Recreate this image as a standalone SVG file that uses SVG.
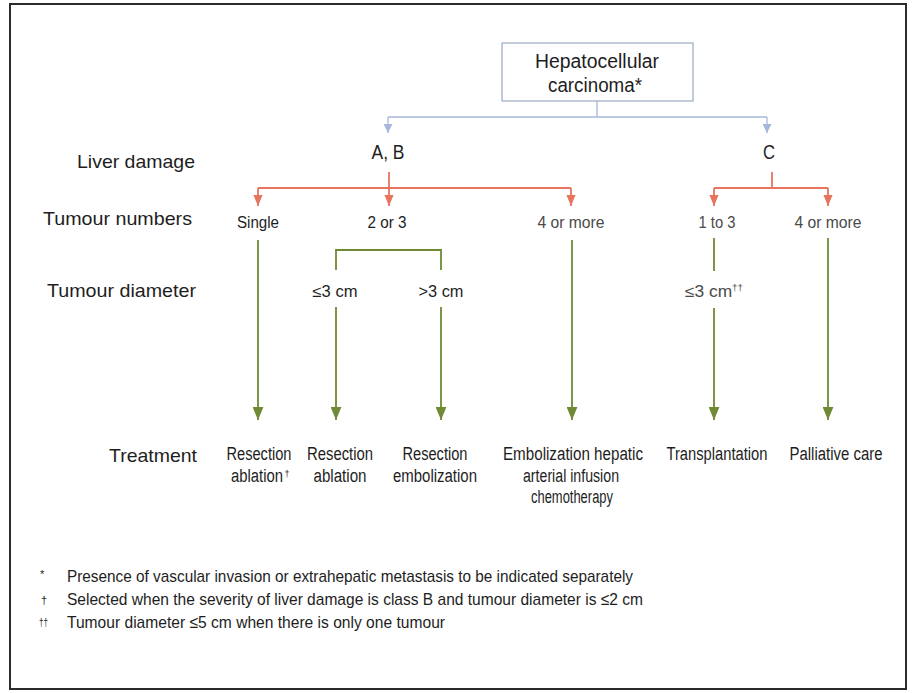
<svg xmlns="http://www.w3.org/2000/svg" width="912" height="693" viewBox="0 0 912 693">
<style>
text{font-family:"Liberation Sans",Arial,sans-serif;fill:#1e1e1e}
.lab{font-size:19px}
.hd{font-size:20px;text-anchor:middle}
.nd{font-size:16px;text-anchor:middle}
.lt{font-size:16px;text-anchor:middle;fill:#4a4a4a}
.tr{font-size:18px;text-anchor:middle}
.fn{font-size:17px}
.sym{font-size:11px}
.blue{stroke:#a7b6dc;stroke-width:1.3;fill:none}
.red{stroke:#e8735f;stroke-width:1.8;fill:none}
.green{stroke:#6e8a33;stroke-width:1.8;fill:none}
</style>
<defs>
<marker id="ab" viewBox="0 0 10 10" refX="10" refY="5" markerWidth="9" markerHeight="9" markerUnits="userSpaceOnUse" orient="auto"><path d="M0,0 L10,5 L0,10 z" fill="#a7b6dc"/></marker>
<marker id="ar" viewBox="0 0 12 10" refX="12" refY="5" markerWidth="11" markerHeight="11" markerUnits="userSpaceOnUse" orient="auto"><path d="M0,0 L12,5 L0,10 z" fill="#e8735f"/></marker>
<marker id="ag" viewBox="0 0 12 10" refX="12" refY="5" markerWidth="13" markerHeight="11" markerUnits="userSpaceOnUse" orient="auto"><path d="M0,0 L12,5 L0,10 z" fill="#6e8a33"/></marker>
</defs>
<rect x="0" y="0" width="912" height="693" fill="#ffffff"/>
<rect x="10" y="4" width="896" height="685" fill="none" stroke="#2b2b2b" stroke-width="2"/>

<g id="connectors">
<path class="blue" d="M597,101 V117 M388,117 H767"/>
<path class="blue" d="M388,117 V133" marker-end="url(#ab)"/>
<path class="blue" d="M767,117 V133" marker-end="url(#ab)"/>
<path class="red" d="M389,172 V188 M258,188 H571 M772,172 V188 M714,188 H828"/>
<path class="red" d="M258,188 V206" marker-end="url(#ar)"/>
<path class="red" d="M389,188 V206" marker-end="url(#ar)"/>
<path class="red" d="M571,188 V206" marker-end="url(#ar)"/>
<path class="red" d="M714,188 V206" marker-end="url(#ar)"/>
<path class="red" d="M828,188 V206" marker-end="url(#ar)"/>
<path class="green" d="M336,270 V250 H441 V270 M714,238 V271"/>
<path class="green" d="M258,240 V420" marker-end="url(#ag)"/>
<path class="green" d="M336,307 V420" marker-end="url(#ag)"/>
<path class="green" d="M441,307 V420" marker-end="url(#ag)"/>
<path class="green" d="M572,240 V420" marker-end="url(#ag)"/>
<path class="green" d="M714,308 V420" marker-end="url(#ag)"/>
<path class="green" d="M828,238 V420" marker-end="url(#ag)"/>
</g>

<g id="row-labels">
<text class="lab" x="77" y="168" textLength="118" lengthAdjust="spacingAndGlyphs">Liver damage</text>
<text class="lab" x="43" y="225" textLength="149" lengthAdjust="spacingAndGlyphs">Tumour numbers</text>
<text class="lab" x="47" y="297" textLength="149" lengthAdjust="spacingAndGlyphs">Tumour diameter</text>
<text class="lab" x="109" y="462" textLength="88" lengthAdjust="spacingAndGlyphs">Treatment</text>
</g>

<g id="hcc">
<rect x="502" y="43" width="191" height="58" fill="#ffffff" stroke="#9aabc0" stroke-width="1.2"/>
<text class="hd" x="597" y="68" textLength="124" lengthAdjust="spacingAndGlyphs">Hepatocellular</text>
<text class="hd" x="595" y="92" textLength="94" lengthAdjust="spacingAndGlyphs">carcinoma*</text>
</g>

<g id="ab-node"><text class="hd" x="388" y="159" textLength="33" lengthAdjust="spacingAndGlyphs">A, B</text></g>
<g id="c-node"><text class="hd" x="769" y="159" textLength="12" lengthAdjust="spacingAndGlyphs">C</text></g>

<g id="single"><text class="nd" x="258" y="228" textLength="42" lengthAdjust="spacingAndGlyphs">Single</text></g>
<g id="two-three"><text class="nd" x="387" y="228" textLength="39" lengthAdjust="spacingAndGlyphs">2 or 3</text></g>
<g id="four-more-ab"><text class="lt" x="571" y="228" textLength="67" lengthAdjust="spacingAndGlyphs">4 or more</text></g>
<g id="one-three"><text class="lt" x="717" y="228" textLength="37" lengthAdjust="spacingAndGlyphs">1 to 3</text></g>
<g id="four-more-c"><text class="lt" x="828" y="228" textLength="67" lengthAdjust="spacingAndGlyphs">4 or more</text></g>

<g id="le3"><text class="nd" x="335" y="297" textLength="45" lengthAdjust="spacingAndGlyphs">≤3 cm</text></g>
<g id="gt3"><text class="nd" x="441" y="297" textLength="45" lengthAdjust="spacingAndGlyphs">&gt;3 cm</text></g>
<g id="le3c"><text class="lt" x="714" y="297" textLength="58" lengthAdjust="spacingAndGlyphs">≤3 cm<tspan font-size="9" dy="-6">††</tspan></text></g>

<g id="t1">
<text class="tr" x="259" y="460" textLength="65" lengthAdjust="spacingAndGlyphs">Resection</text>
<text class="tr" x="257" y="482" textLength="52" lengthAdjust="spacingAndGlyphs">ablation</text>
<text x="284.5" y="477" font-size="9">†</text>
</g>
<g id="t2">
<text class="tr" x="340" y="460" textLength="66" lengthAdjust="spacingAndGlyphs">Resection</text>
<text class="tr" x="340" y="482" textLength="53" lengthAdjust="spacingAndGlyphs">ablation</text>
</g>
<g id="t3">
<text class="tr" x="435" y="460" textLength="65" lengthAdjust="spacingAndGlyphs">Resection</text>
<text class="tr" x="435" y="482" textLength="84" lengthAdjust="spacingAndGlyphs">embolization</text>
</g>
<g id="t4">
<text class="tr" x="573" y="460" textLength="140" lengthAdjust="spacingAndGlyphs">Embolization hepatic</text>
<text class="tr" x="571" y="482" textLength="96" lengthAdjust="spacingAndGlyphs">arterial infusion</text>
<text class="tr" x="572" y="503" textLength="82" lengthAdjust="spacingAndGlyphs">chemotherapy</text>
</g>
<g id="t5"><text class="tr" x="717" y="460" textLength="101" lengthAdjust="spacingAndGlyphs">Transplantation</text></g>
<g id="t6"><text class="tr" x="836" y="460" textLength="93" lengthAdjust="spacingAndGlyphs">Palliative care</text></g>

<g id="footnotes">
<text class="sym" x="40" y="578">*</text>
<text class="fn" x="67" y="582" textLength="566" lengthAdjust="spacingAndGlyphs">Presence of vascular invasion or extrahepatic metastasis to be indicated separately</text>
<text class="sym" x="41" y="604">†</text>
<text class="fn" x="67" y="605" textLength="576" lengthAdjust="spacingAndGlyphs">Selected when the severity of liver damage is class B and tumour diameter is ≤2 cm</text>
<text class="sym" x="39" y="626" textLength="9" lengthAdjust="spacingAndGlyphs">††</text>
<text class="fn" x="67" y="628" textLength="378" lengthAdjust="spacingAndGlyphs">Tumour diameter ≤5 cm when there is only one tumour</text>
</g>
</svg>
